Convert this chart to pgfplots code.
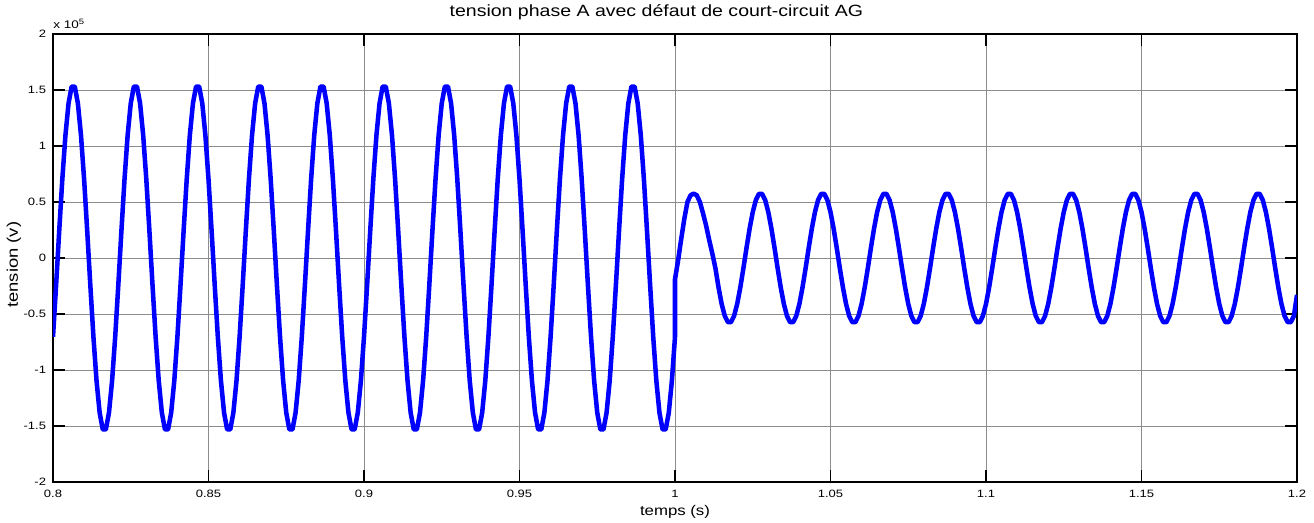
\documentclass[border=0pt]{standalone}
\usepackage{fontspec}
\setmainfont{Liberation Sans}
\newfontfamily\tickfont{Liberation Sans}[FakeStretch=1.22]
\newfontfamily\titlefont{Liberation Sans}[FakeStretch=1.2]
\usepackage{pgfplots}
\pgfplotsset{compat=1.18}
\definecolor{mblue}{rgb}{0,0,1}
\begin{document}
\begin{tikzpicture}
\useasboundingbox (-39.75pt,-30pt) rectangle (945.75pt,361.5pt);
\begin{axis}[
  at={(0,0)}, anchor=south west,
  scale only axis, width=933pt, height=336pt,
  xmin=0.8, xmax=1.2, ymin=-2, ymax=2,
  xtick={0.8,0.85,...,1.2},
  xticklabels={0.8,0.85,0.9,0.95,1,1.05,1.1,1.15,1.2},
  ytick={-2,-1.5,-1,-0.5,0,0.5,1,1.5,2},
  yticklabels={-2,-1.5,-1,-0.5,0,0.5,1,1.5,2},
  tick align=inside, xtick pos=both, ytick pos=both,
  major tick length=9pt,
  tick style={black, line width=0.8pt},
  axis line style={black, line width=1.1pt},
  grid=major,
  major grid style={black!45, line width=0.6pt},
  ticklabel style={font=\tickfont\fontsize{8}{9}\selectfont},
  xticklabel style={anchor=base, yshift=-11.25pt},
  yticklabel style={anchor=east, inner sep=0pt, xshift=-5pt},
  title={tension phase A avec défaut de court-circuit AG},
  title style={font=\titlefont\fontsize{12.2}{13}\selectfont, at={(0.5,1)}, anchor=base, yshift=7.5pt, xshift=-14pt},
  xlabel={temps (s)},
  ylabel={tension (v)},
  xlabel style={font=\titlefont\fontsize{10.5}{12}\selectfont, at={(0.5,0)}, anchor=base, yshift=-24.75pt},
  ylabel style={font=\titlefont\fontsize{11.5}{12}\selectfont, at={(rel axis cs:0,0.5)}, anchor=center, rotate=0, yshift=29.25pt, xshift=-5pt},
  clip mode=individual,
]
\addplot[mblue, line width=3.4pt, line join=round] coordinates {
(0.800,-0.704)(0.801,-0.242)(0.802,0.242)(0.803,0.704)(0.804,1.096)(0.805,1.381)(0.806,1.531)(0.807,1.531)(0.808,1.381)(0.809,1.096)
(0.810,0.704)(0.811,0.242)(0.812,-0.242)(0.813,-0.704)(0.814,-1.096)(0.815,-1.381)(0.816,-1.531)(0.817,-1.531)(0.818,-1.381)(0.819,-1.096)
(0.820,-0.704)(0.821,-0.242)(0.822,0.242)(0.823,0.704)(0.824,1.096)(0.825,1.381)(0.826,1.531)(0.827,1.531)(0.828,1.381)(0.829,1.096)
(0.830,0.704)(0.831,0.242)(0.832,-0.242)(0.833,-0.704)(0.834,-1.096)(0.835,-1.381)(0.836,-1.531)(0.837,-1.531)(0.838,-1.381)(0.839,-1.096)
(0.840,-0.704)(0.841,-0.242)(0.842,0.242)(0.843,0.704)(0.844,1.096)(0.845,1.381)(0.846,1.531)(0.847,1.531)(0.848,1.381)(0.849,1.096)
(0.850,0.704)(0.851,0.242)(0.852,-0.242)(0.853,-0.704)(0.854,-1.096)(0.855,-1.381)(0.856,-1.531)(0.857,-1.531)(0.858,-1.381)(0.859,-1.096)
(0.860,-0.704)(0.861,-0.242)(0.862,0.242)(0.863,0.704)(0.864,1.096)(0.865,1.381)(0.866,1.531)(0.867,1.531)(0.868,1.381)(0.869,1.096)
(0.870,0.704)(0.871,0.242)(0.872,-0.242)(0.873,-0.704)(0.874,-1.096)(0.875,-1.381)(0.876,-1.531)(0.877,-1.531)(0.878,-1.381)(0.879,-1.096)
(0.880,-0.704)(0.881,-0.242)(0.882,0.242)(0.883,0.704)(0.884,1.096)(0.885,1.381)(0.886,1.531)(0.887,1.531)(0.888,1.381)(0.889,1.096)
(0.890,0.704)(0.891,0.242)(0.892,-0.242)(0.893,-0.704)(0.894,-1.096)(0.895,-1.381)(0.896,-1.531)(0.897,-1.531)(0.898,-1.381)(0.899,-1.096)
(0.900,-0.704)(0.901,-0.242)(0.902,0.242)(0.903,0.704)(0.904,1.096)(0.905,1.381)(0.906,1.531)(0.907,1.531)(0.908,1.381)(0.909,1.096)
(0.910,0.704)(0.911,0.242)(0.912,-0.242)(0.913,-0.704)(0.914,-1.096)(0.915,-1.381)(0.916,-1.531)(0.917,-1.531)(0.918,-1.381)(0.919,-1.096)
(0.920,-0.704)(0.921,-0.242)(0.922,0.242)(0.923,0.704)(0.924,1.096)(0.925,1.381)(0.926,1.531)(0.927,1.531)(0.928,1.381)(0.929,1.096)
(0.930,0.704)(0.931,0.242)(0.932,-0.242)(0.933,-0.704)(0.934,-1.096)(0.935,-1.381)(0.936,-1.531)(0.937,-1.531)(0.938,-1.381)(0.939,-1.096)
(0.940,-0.704)(0.941,-0.242)(0.942,0.242)(0.943,0.704)(0.944,1.096)(0.945,1.381)(0.946,1.531)(0.947,1.531)(0.948,1.381)(0.949,1.096)
(0.950,0.704)(0.951,0.242)(0.952,-0.242)(0.953,-0.704)(0.954,-1.096)(0.955,-1.381)(0.956,-1.531)(0.957,-1.531)(0.958,-1.381)(0.959,-1.096)
(0.960,-0.704)(0.961,-0.242)(0.962,0.242)(0.963,0.704)(0.964,1.096)(0.965,1.381)(0.966,1.531)(0.967,1.531)(0.968,1.381)(0.969,1.096)
(0.970,0.704)(0.971,0.242)(0.972,-0.242)(0.973,-0.704)(0.974,-1.096)(0.975,-1.381)(0.976,-1.531)(0.977,-1.531)(0.978,-1.381)(0.979,-1.096)
(0.980,-0.704)(0.981,-0.242)(0.982,0.242)(0.983,0.704)(0.984,1.096)(0.985,1.381)(0.986,1.531)(0.987,1.531)(0.988,1.381)(0.989,1.096)
(0.990,0.704)(0.991,0.242)(0.992,-0.242)(0.993,-0.704)(0.994,-1.096)(0.995,-1.381)(0.996,-1.531)(0.997,-1.531)(0.998,-1.381)(0.999,-1.096)
(1.000,-0.704)
(1.000,-0.190)(1.001,-0.020)(1.002,0.170)(1.003,0.350)(1.004,0.500)(1.005,0.560)(1.006,0.575)(1.007,0.560)(1.008,0.500)(1.009,0.400)
(1.010,0.290)(1.011,0.160)(1.012,0.040)(1.013,-0.091)(1.014,-0.263)(1.015,-0.410)(1.016,-0.517)(1.017,-0.573)(1.018,-0.573)(1.019,-0.517)
(1.020,-0.410)(1.021,-0.263)(1.022,-0.091)(1.023,0.091)(1.024,0.263)(1.025,0.410)(1.026,0.517)(1.027,0.573)(1.028,0.573)(1.029,0.517)
(1.030,0.410)(1.031,0.263)(1.032,0.091)(1.033,-0.091)(1.034,-0.263)(1.035,-0.410)(1.036,-0.517)(1.037,-0.573)(1.038,-0.573)(1.039,-0.517)
(1.040,-0.410)(1.041,-0.263)(1.042,-0.091)(1.043,0.091)(1.044,0.263)(1.045,0.410)(1.046,0.517)(1.047,0.573)(1.048,0.573)(1.049,0.517)
(1.050,0.410)(1.051,0.263)(1.052,0.091)(1.053,-0.091)(1.054,-0.263)(1.055,-0.410)(1.056,-0.517)(1.057,-0.573)(1.058,-0.573)(1.059,-0.517)
(1.060,-0.410)(1.061,-0.263)(1.062,-0.091)(1.063,0.091)(1.064,0.263)(1.065,0.410)(1.066,0.517)(1.067,0.573)(1.068,0.573)(1.069,0.517)
(1.070,0.410)(1.071,0.263)(1.072,0.091)(1.073,-0.091)(1.074,-0.263)(1.075,-0.410)(1.076,-0.517)(1.077,-0.573)(1.078,-0.573)(1.079,-0.517)
(1.080,-0.410)(1.081,-0.263)(1.082,-0.091)(1.083,0.091)(1.084,0.263)(1.085,0.410)(1.086,0.517)(1.087,0.573)(1.088,0.573)(1.089,0.517)
(1.090,0.410)(1.091,0.263)(1.092,0.091)(1.093,-0.091)(1.094,-0.263)(1.095,-0.410)(1.096,-0.517)(1.097,-0.573)(1.098,-0.573)(1.099,-0.517)
(1.100,-0.410)(1.101,-0.263)(1.102,-0.091)(1.103,0.091)(1.104,0.263)(1.105,0.410)(1.106,0.517)(1.107,0.573)(1.108,0.573)(1.109,0.517)
(1.110,0.410)(1.111,0.263)(1.112,0.091)(1.113,-0.091)(1.114,-0.263)(1.115,-0.410)(1.116,-0.517)(1.117,-0.573)(1.118,-0.573)(1.119,-0.517)
(1.120,-0.410)(1.121,-0.263)(1.122,-0.091)(1.123,0.091)(1.124,0.263)(1.125,0.410)(1.126,0.517)(1.127,0.573)(1.128,0.573)(1.129,0.517)
(1.130,0.410)(1.131,0.263)(1.132,0.091)(1.133,-0.091)(1.134,-0.263)(1.135,-0.410)(1.136,-0.517)(1.137,-0.573)(1.138,-0.573)(1.139,-0.517)
(1.140,-0.410)(1.141,-0.263)(1.142,-0.091)(1.143,0.091)(1.144,0.263)(1.145,0.410)(1.146,0.517)(1.147,0.573)(1.148,0.573)(1.149,0.517)
(1.150,0.410)(1.151,0.263)(1.152,0.091)(1.153,-0.091)(1.154,-0.263)(1.155,-0.410)(1.156,-0.517)(1.157,-0.573)(1.158,-0.573)(1.159,-0.517)
(1.160,-0.410)(1.161,-0.263)(1.162,-0.091)(1.163,0.091)(1.164,0.263)(1.165,0.410)(1.166,0.517)(1.167,0.573)(1.168,0.573)(1.169,0.517)
(1.170,0.410)(1.171,0.263)(1.172,0.091)(1.173,-0.091)(1.174,-0.263)(1.175,-0.410)(1.176,-0.517)(1.177,-0.573)(1.178,-0.573)(1.179,-0.517)
(1.180,-0.410)(1.181,-0.263)(1.182,-0.091)(1.183,0.091)(1.184,0.263)(1.185,0.410)(1.186,0.517)(1.187,0.573)(1.188,0.573)(1.189,0.517)
(1.190,0.410)(1.191,0.263)(1.192,0.091)(1.193,-0.091)(1.194,-0.263)(1.195,-0.410)(1.196,-0.517)(1.197,-0.573)(1.198,-0.573)(1.199,-0.517)
(1.200,-0.330)
};
\node[anchor=base west, inner sep=0pt, font=\tickfont\fontsize{8.3}{9}\selectfont] at (rel axis cs:0,1) [yshift=4.5pt] {x 10\textsuperscript{5}};
\end{axis}
\end{tikzpicture}
\end{document}
